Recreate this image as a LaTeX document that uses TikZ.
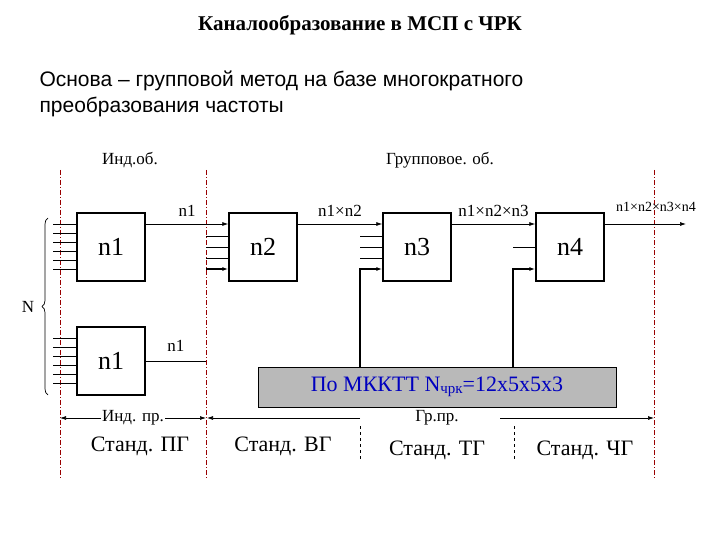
\documentclass[tikz,border=0pt]{standalone}
\usepackage{fontspec}
\setmainfont{Liberation Serif}
\newfontfamily\arialf{Liberation Sans}
\usetikzlibrary{arrows.meta,decorations.pathreplacing}
\begin{document}
\begin{tikzpicture}[x=1pt,y=-1pt,
  blk/.style={draw,line width=1.4pt,minimum width=68pt,minimum height=68pt,font=\fontsize{26}{28}\selectfont},
  sig/.style={line width=0.7pt},
  arr/.style={line width=0.7pt,-{Latex[length=6pt,width=4pt]}},
  barr/.style={line width=1.4pt,-{Latex[length=6pt,width=4pt]}},
  lbl/.style={font=\fontsize{17}{19}\selectfont},
  big/.style={font=\fontsize{22}{24}\selectfont},
  reddash/.style={draw=red!60!black,dash pattern=on 5pt off 2pt on 1pt off 2pt,line width=0.6pt}]
\useasboundingbox (0,0) rectangle (720,540);
\node[font=\bfseries\fontsize{21}{24}\selectfont] (title) at (360,25) {Каналообразование в МСП с ЧРК};
\node[anchor=west,font=\arialf\fontsize{21}{26}\selectfont,align=left] (osn) at (36,94) {Основа – групповой метод на базе многократного\\преобразования частоты};
\node[lbl] (io) at (130,160) {Инд.об.};
\node[lbl] (go) at (440,160) {Групповое. об.};
% red dashed
\coordinate (d1t) at (60,170); \coordinate (d1b) at (60,478);
\coordinate (d2t) at (206,170); \coordinate (d2b) at (206,478);
\coordinate (d3t) at (654,170); \coordinate (d3b) at (654,478);
\draw[reddash] (d1t)--(d1b); \draw[reddash] (d2t)--(d2b); \draw[reddash] (d3t)--(d3b);
% blocks
\node[blk] (a) at (111,247) {n1};
\node[blk] (b) at (111,361) {n1};
\node[blk] (c) at (263,247) {n2};
\node[blk] (d) at (417,247) {n3};
\node[blk] (e) at (570,247) {n4};
% inputs
\foreach \y in {224,233,242,251,260,269}{\draw[sig] (53,\y) -- (a.west |- 0,\y);}
\foreach \y in {338,347,356,365,374,383}{\draw[sig] (53,\y) -- (b.west |- 0,\y);}
\foreach \y in {236,247,258}{\draw[sig] (206,\y) -- (c.west |- 0,\y); \draw[sig] (360,\y) -- (d.west |- 0,\y);}
\draw[sig] (513,247) -- (e.west |- 0,247);
% main chain
\draw[arr] (a.east |- 0,224) -- node[lbl,above=4pt,pos=0.5]{n1} (c.west |- 0,224);
\draw[arr] (c.east |- 0,224) -- node[lbl,above=4pt]{n1×n2} (d.west |- 0,224);
\draw[arr] (d.east |- 0,224) -- node[lbl,above=4pt]{n1×n2×n3} (e.west |- 0,224);
\coordinate (out) at (686,224);
\draw[arr] (e.east |- 0,224) -- (out);
\node[font=\fontsize{14}{16}\selectfont] (l4) at (656,207) {n1×n2×n3×n4};
\draw[sig] (b.east) -- node[lbl,above=6pt]{n1} (206,361);
\draw[barr] (206,269) -- (c.west |- 0,269);
% gray box
\node[draw,fill=gray!55,line width=0.7pt,minimum width=358pt,minimum height=40pt,text=blue!75!black,font=\fontsize{22}{24}\selectfont] (g) at (437,387) {По МККТТ N\raisebox{-2pt}{\fontsize{15}{16}\selectfont чрк}=12х5х5х3};
\draw[barr] (360,367) -- (360,269) -- (d.west |- 0,269);
\draw[barr] (513,367) -- (513,269) -- (e.west |- 0,269);
% bottom
\coordinate (p1) at (60,418); \coordinate (p2) at (206,418);
\draw[line width=0.7pt,{Latex[length=6pt,width=4pt]}-{Latex[length=6pt,width=4pt]}] (p1) -- node[lbl,fill=white,inner sep=1pt]{Инд. пр.} (p2);
\coordinate (p3) at (360,418); \coordinate (p4) at (500,418); \coordinate (p5) at (654,418);
\draw[arr] (p3) -- (207,418);
\node[lbl] (gp) at (437,418) {Гр.пр.};
\draw[arr] (p4) -- (p5);
\draw[sig,dashed] (360,426) -- (360,462);
\draw[sig,dashed] (514,426) -- (514,462);
\node[big] (s1) at (140,446) {Станд. ПГ};
\node[big] (s2) at (283,446) {Станд. ВГ};
\node[big] (s3) at (437,450) {Станд. ТГ};
\node[big] (s4) at (585,450) {Станд. ЧГ};
% brace
\draw[sig,decorate,decoration={brace,amplitude=6pt}] (48,395) -- (48,218);
\node[lbl] (N) at (28,307) {N};
\end{tikzpicture}
\end{document}
